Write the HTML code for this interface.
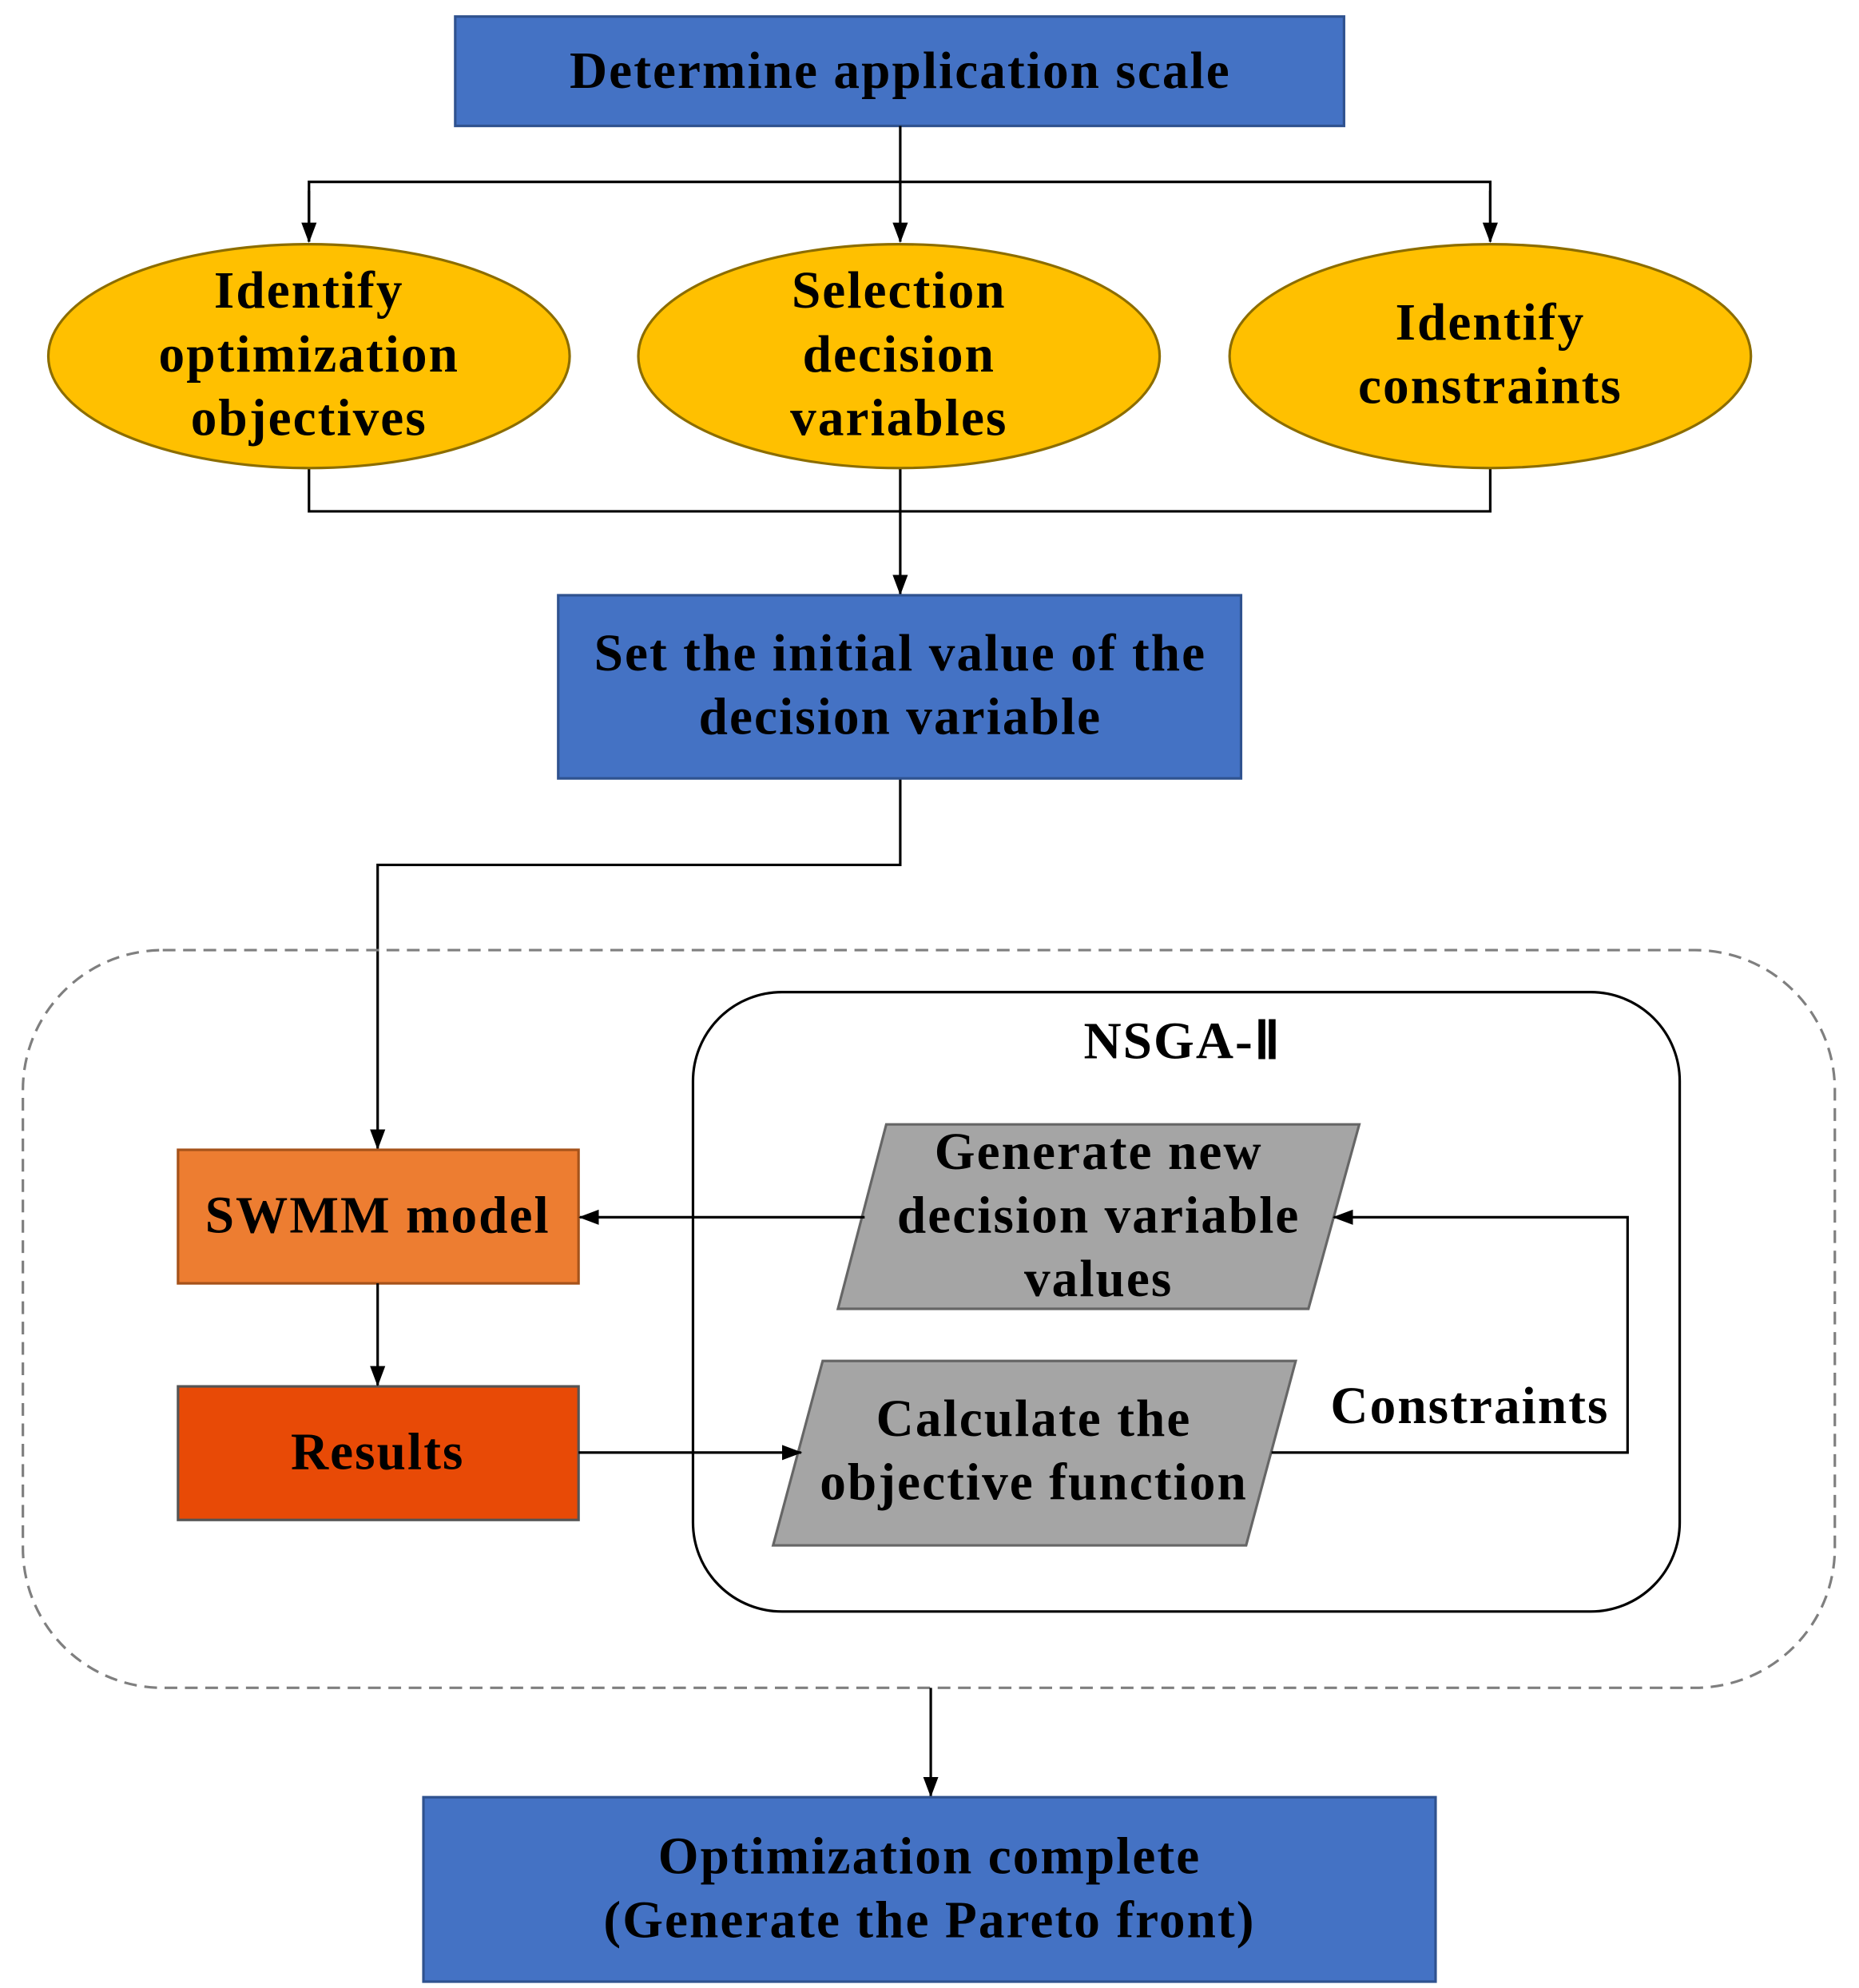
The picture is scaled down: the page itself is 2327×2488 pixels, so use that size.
<!DOCTYPE html>
<html><head><meta charset="utf-8"><style>html,body{margin:0;padding:0;background:#fff}svg{display:block}</style></head><body>
<svg width="2327" height="2488" viewBox="0 0 1462 1563" preserveAspectRatio="none" xmlns="http://www.w3.org/2000/svg">
<defs><marker id="b" markerWidth="16" markerHeight="16" refX="15" refY="8" orient="auto" markerUnits="userSpaceOnUse" viewBox="0 0 16 16"><path d="M0,2 L16,8 L0,14 z" fill="#000"/></marker></defs>
<g font-family="'Liberation Serif',serif" font-weight="bold" font-size="41" letter-spacing="1.3" text-anchor="middle" fill="#000">
<rect x="358" y="13" width="699" height="86" fill="#4472C4" stroke="#2F528F" stroke-width="2"/>
<text x="708" y="69">Determine application scale</text>
<g stroke="#000" stroke-width="2" fill="none">
<line x1="708" y1="99" x2="708" y2="190" marker-end="url(#b)"/>
<polyline points="243,190 243,143 1172,143 1172,190"/>
<line x1="243" y1="150" x2="243" y2="190" marker-end="url(#b)"/>
<line x1="1172" y1="150" x2="1172" y2="190" marker-end="url(#b)"/>
<polyline points="243,368 243,402 1172,402 1172,368"/>
<line x1="708" y1="368" x2="708" y2="467" marker-end="url(#b)"/>
<polyline points="708,612 708,680 297,680 297,903" marker-end="url(#b)"/>
</g>
<g fill="#FFC000" stroke="#8C6D00" stroke-width="2">
<ellipse cx="243" cy="280" rx="205" ry="88"/>
<ellipse cx="707" cy="280" rx="205" ry="88"/>
<ellipse cx="1172" cy="280" rx="205" ry="88"/>
</g>
<text x="243" y="242">Identify</text><text x="243" y="292">optimization</text><text x="243" y="342">objectives</text>
<text x="707" y="242">Selection</text><text x="707" y="292">decision</text><text x="707" y="342">variables</text>
<text x="1172" y="267">Identify</text><text x="1172" y="317">constraints</text>
<rect x="439" y="468" width="537" height="144" fill="#4472C4" stroke="#2F528F" stroke-width="2"/>
<text x="708" y="527">Set the initial value of the</text><text x="708" y="577">decision variable</text>
<rect x="18" y="747" width="1425" height="580" rx="110" fill="none" stroke="#7f7f7f" stroke-width="2" stroke-dasharray="10,6"/>
<rect x="545" y="780" width="776" height="487" rx="70" fill="none" stroke="#000" stroke-width="2"/>
<text x="930" y="832">NSGA-Ⅱ</text>
<rect x="140" y="904" width="315" height="105" fill="#ED7D31" stroke="#A5521A" stroke-width="2"/>
<text x="297" y="969">SWMM model</text>
<rect x="140" y="1090" width="315" height="105" fill="#E84A06" stroke="#555" stroke-width="2"/>
<text x="297" y="1155">Results</text>
<polygon points="697,884 1069,884 1029,1029 659,1029" fill="#A5A5A5" stroke="#666" stroke-width="2"/>
<text x="864" y="919">Generate new</text><text x="864" y="969">decision variable</text><text x="864" y="1019">values</text>
<polygon points="647,1070 1019,1070 980,1215 608,1215" fill="#A5A5A5" stroke="#666" stroke-width="2"/>
<text x="813" y="1129">Calculate the</text><text x="813" y="1179">objective function</text>
<text x="1156" y="1119">Constraints</text>
<g stroke="#000" stroke-width="2" fill="none">
<line x1="680" y1="957" x2="456" y2="957" marker-end="url(#b)"/>
<line x1="297" y1="1009" x2="297" y2="1089" marker-end="url(#b)"/>
<line x1="455" y1="1142" x2="630" y2="1142" marker-end="url(#b)"/>
<polyline points="1000,1142 1280,1142 1280,957 1049,957" marker-end="url(#b)"/>
<line x1="732" y1="1327" x2="732" y2="1412" marker-end="url(#b)"/>
</g>
<rect x="333" y="1413" width="796" height="145" fill="#4472C4" stroke="#2F528F" stroke-width="2"/>
<text x="731" y="1473">Optimization complete</text><text x="731" y="1523">(Generate the Pareto front)</text>
</g>
</svg>
</body></html>
